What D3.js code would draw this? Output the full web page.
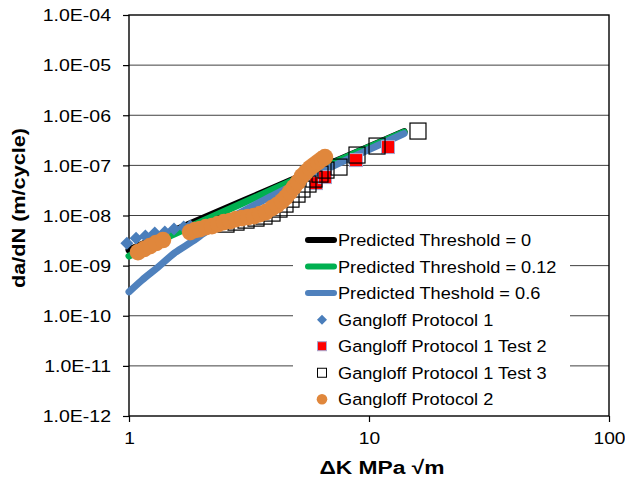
<!DOCTYPE html>
<html>
<head>
<meta charset="utf-8">
<script src="https://cdn.jsdelivr.net/npm/d3@7"></script>
<style>
  body { margin: 0; background: #fff; }
  text { font-family: Arial, "Liberation Sans", sans-serif; fill: #000; }
</style>
</head>
<body>
<div id="container"></div>
<script>
// DATA
let yTicks = [1e-12, 1e-11, 1e-10, 1e-9, 1e-8, 1e-7, 1e-6, 1e-5, 1e-4];
let yTickLabels = ["1.0E-12","1.0E-11","1.0E-10","1.0E-09","1.0E-08","1.0E-07","1.0E-06","1.0E-05","1.0E-04"];
let xTicks = [1, 10, 100];
let xTickLabels = ["1", "10", "100"];

// predicted curves: dK, da/dN
let thr0K = [1, 2, 4, 8, 14];
let thr0V = [2.05e-9, 8.5e-9, 3.55e-8, 1.48e-7, 4.7e-7];
let thr012K = [1, 1.25, 1.5, 2, 3, 4, 6, 8, 10, 14];
let thr012V = [1.55e-9, 2.6e-9, 4.0e-9, 7.5e-9, 1.8e-8, 3.35e-8, 7.9e-8, 1.44e-7, 2.3e-7, 4.6e-7];
let thr06K = [1, 1.13, 1.32, 1.55, 1.83, 2.13, 2.44, 3, 4, 6, 8, 10, 14];
let thr06V = [3.0e-10, 5.1e-10, 9.3e-10, 1.8e-9, 3.0e-9, 5.0e-9, 7.3e-9, 1.24e-8, 2.55e-8, 6.6e-8, 1.27e-7, 2.07e-7, 4.3e-7];

// Gangloff Protocol 1
let p1K = [0.98, 1.07, 1.17, 1.28, 1.41, 1.54, 1.69, 1.80];
let p1V = [2.8e-9, 3.5e-9, 3.9e-9, 4.5e-9, 4.7e-9, 5.4e-9, 5.9e-9, 6.2e-9];

// Gangloff Protocol 1 Test 2
let t2K = [6.01, 6.555, 8.83, 12.0];
let t2V = [4.43e-8, 5.84e-8, 1.275e-7, 2.32e-7];

// Gangloff Protocol 1 Test 3
let t3K = [2.536, 2.792, 3.073, 3.382, 3.652, 3.944, 4.217, 4.467, 4.732, 5.012, 5.258, 5.569, 5.899, 6.249, 6.62, 7.499, 8.913, 10.8, 16.0];
let t3V = [6.73e-9, 7.38e-9, 8.09e-9, 8.87e-9, 9.73e-9, 1.117e-8, 1.343e-8, 1.69e-8, 2.12e-8, 2.67e-8, 3.37e-8, 4.24e-8, 5.33e-8, 6.7e-8, 8.05e-8, 9.25e-8, 1.607e-7, 2.43e-7, 4.84e-7];

// Gangloff Protocol 2
let p2K = [1.09, 1.155, 1.223, 1.296, 1.385,
  1.796, 1.884, 1.976, 2.093, 2.217, 2.349, 2.488, 2.635, 2.792, 2.957, 3.132, 3.318, 3.515, 3.723,
  3.944, 4.138, 4.341, 4.511, 4.687, 4.870, 5.061, 5.258, 5.464, 5.678, 5.899, 6.13, 6.37, 6.555];
let p2V = [1.86e-9, 2.14e-9, 2.45e-9, 2.82e-9, 3.24e-9,
  4.67e-9, 5.12e-9, 5.36e-9, 5.87e-9, 6.14e-9, 6.73e-9, 7.38e-9, 7.73e-9, 8.47e-9, 8.87e-9, 9.29e-9, 9.73e-9, 1.067e-8, 1.17e-8,
  1.406e-8, 1.614e-8, 1.937e-8, 2.33e-8, 2.93e-8, 3.69e-8, 4.65e-8, 6.11e-8, 7.35e-8, 8.83e-8, 1.014e-7, 1.164e-7, 1.336e-7, 1.465e-7];

let legendLabels = ["Predicted Threshold = 0", "Predicted Threshold = 0.12", "Predicted Theshold = 0.6",
  "Gangloff Protocol 1", "Gangloff Protocol 1 Test 2", "Gangloff Protocol 1 Test 3", "Gangloff Protocol 2"];

let w = 625;
let h = 483;
let plotLeft = 129, plotRight = 609, plotTop = 15, plotBottom = 416;

let blue = "#4F81BD";
let green = "#00B050";
let orange = "#E0873C";

let viz = d3.select("#container").append("svg")
    .attr("width", w)
    .attr("height", h)
    .style("display", "block")
    .style("background-color", "white");

let xScale = d3.scaleLog().domain([1, 100]).range([plotLeft, plotRight]);
let yScale = d3.scaleLog().domain([1e-12, 1e-4]).range([plotBottom, plotTop]);

function zip(ks, vs) {
  return ks.map(function(k, i) { return { k: k, v: vs[i] }; });
}

// gridlines
viz.append("g").selectAll("line").data(yTicks.slice(1, -1)).enter()
  .append("line")
    .attr("x1", plotLeft).attr("x2", plotRight)
    .attr("y1", d => yScale(d)).attr("y2", d => yScale(d))
    .attr("stroke", "#404040")
    .attr("stroke-width", 1);

// frame
viz.append("rect")
  .attr("x", plotLeft).attr("y", plotTop)
  .attr("width", plotRight - plotLeft).attr("height", plotBottom - plotTop)
  .attr("fill", "none").attr("stroke", "#000").attr("stroke-width", 1.4);

// axes
let yAxis = d3.axisLeft(yScale).tickValues(yTicks).tickSize(6)
  .tickFormat((d, i) => yTickLabels[i]);
let yG = viz.append("g").attr("transform", "translate(" + plotLeft + ",0)").call(yAxis);
yG.select(".domain").remove();
yG.selectAll(".tick line").attr("stroke", "#000").attr("stroke-width", 1.2);
yG.selectAll(".tick text")
  .attr("x", null).attr("dy", "0.36em")
  .attr("transform", "translate(-18,0) scale(1.22,1)")
  .style("font-size", "16px").attr("fill", "#000");

let xAxis = d3.axisBottom(xScale).tickValues(xTicks).tickSize(6)
  .tickFormat((d, i) => xTickLabels[i]);
let xG = viz.append("g").attr("transform", "translate(0," + plotBottom + ")").call(xAxis);
xG.select(".domain").remove();
xG.selectAll(".tick line").attr("stroke", "#000").attr("stroke-width", 1.2);
xG.selectAll(".tick text")
  .attr("y", null).attr("dy", null)
  .attr("transform", "translate(0,28) scale(1.2,1)")
  .style("font-size", "16px").attr("fill", "#000");

// titles
viz.append("text")
  .attr("transform", "translate(25,208) rotate(-90) scale(1.17,1)")
  .attr("text-anchor", "middle")
  .style("font-size", "18.5px").style("font-weight", "bold")
  .text("da/dN (m/cycle)");

viz.append("text")
  .attr("transform", "translate(382,474) scale(1.2,1)")
  .attr("text-anchor", "middle")
  .style("font-size", "19px").style("font-weight", "bold")
  .text("\u0394K MPa \u221Am");

// predicted lines
let lineMaker = d3.line()
  .x(d => xScale(d.k))
  .y(d => yScale(d.v))
  .curve(d3.curveMonotoneX);

let curves = [
  { data: zip(thr0K, thr0V), color: "#000" },
  { data: zip(thr012K, thr012V), color: green },
  { data: zip(thr06K, thr06V), color: blue }
];
viz.selectAll(".curve").data(curves).enter()
  .append("path")
    .attr("class", "curve")
    .attr("d", d => lineMaker(d.data))
    .attr("fill", "none")
    .attr("stroke", d => d.color)
    .attr("stroke-width", 7)
    .attr("stroke-linecap", "round")
    .attr("stroke-linejoin", "round");

// markers
function diamond(r) {
  return "M0," + (-r) + "L" + r + ",0L0," + r + "L" + (-r) + ",0Z";
}

viz.selectAll(".p1").data(zip(p1K, p1V)).enter()
  .append("path")
    .attr("class", "p1")
    .attr("transform", d => "translate(" + xScale(d.k) + "," + yScale(d.v) + ")")
    .attr("d", diamond(6.5))
    .attr("fill", "#4A7EBB");

viz.selectAll(".t2").data(zip(t2K, t2V)).enter()
  .append("rect")
    .attr("class", "t2")
    .attr("x", d => xScale(d.k) - 6.5)
    .attr("y", d => yScale(d.v) - 6.5)
    .attr("width", 13).attr("height", 13)
    .attr("fill", "#FF0000")
    .attr("stroke", "#A8A8D0").attr("stroke-width", 1);

viz.selectAll(".t3").data(zip(t3K, t3V)).enter()
  .append("rect")
    .attr("class", "t3")
    .attr("x", d => xScale(d.k) - 8)
    .attr("y", d => yScale(d.v) - 8)
    .attr("width", 16).attr("height", 16)
    .attr("fill", "none")
    .attr("stroke", "#000").attr("stroke-width", 1.2);

viz.selectAll(".p2").data(zip(p2K, p2V)).enter()
  .append("circle")
    .attr("class", "p2")
    .attr("cx", d => xScale(d.k))
    .attr("cy", d => yScale(d.v))
    .attr("r", 8.3)
    .attr("fill", orange);

// legend
let legend = viz.append("g");
legend.append("rect")
  .attr("x", 293).attr("y", 226).attr("width", 277).attr("height", 188)
  .attr("fill", "white");

let rowY = d3.range(legendLabels.length).map(i => 240 + i * 26.55);
let kinds = ["line", "line", "line", "diamond", "red", "open", "circle"];
let colors = ["#000", green, blue, "#4A7EBB", "#FF0000", "white", orange];

legendLabels.forEach(function(label, i) {
  let y = rowY[i];
  let g = legend.append("g").attr("transform", "translate(0," + y + ")");
  if (kinds[i] == "line") {
    g.append("line").attr("x1", 308).attr("x2", 334).attr("y1", 0).attr("y2", 0)
      .attr("stroke", colors[i]).attr("stroke-width", 6).attr("stroke-linecap", "round");
  } else if (kinds[i] == "diamond") {
    g.append("path").attr("transform", "translate(322,0)").attr("d", diamond(5)).attr("fill", colors[i]);
  } else if (kinds[i] == "red") {
    g.append("rect").attr("x", 317.5).attr("y", -4.5).attr("width", 9).attr("height", 9)
      .attr("fill", colors[i]).attr("stroke", "#A8A8D0").attr("stroke-width", 1);
  } else if (kinds[i] == "open") {
    g.append("rect").attr("x", 317.5).attr("y", -4.5).attr("width", 9).attr("height", 9)
      .attr("fill", "white").attr("stroke", "#000").attr("stroke-width", 1);
  } else {
    g.append("circle").attr("cx", 322).attr("cy", 0).attr("r", 5.3).attr("fill", colors[i]);
  }
  g.append("text")
    .attr("transform", "translate(338,0) scale(1.07,1)")
    .attr("dy", "0.36em")
    .style("font-size", "17px")
    .text(label);
});
</script>
</body>
</html>
